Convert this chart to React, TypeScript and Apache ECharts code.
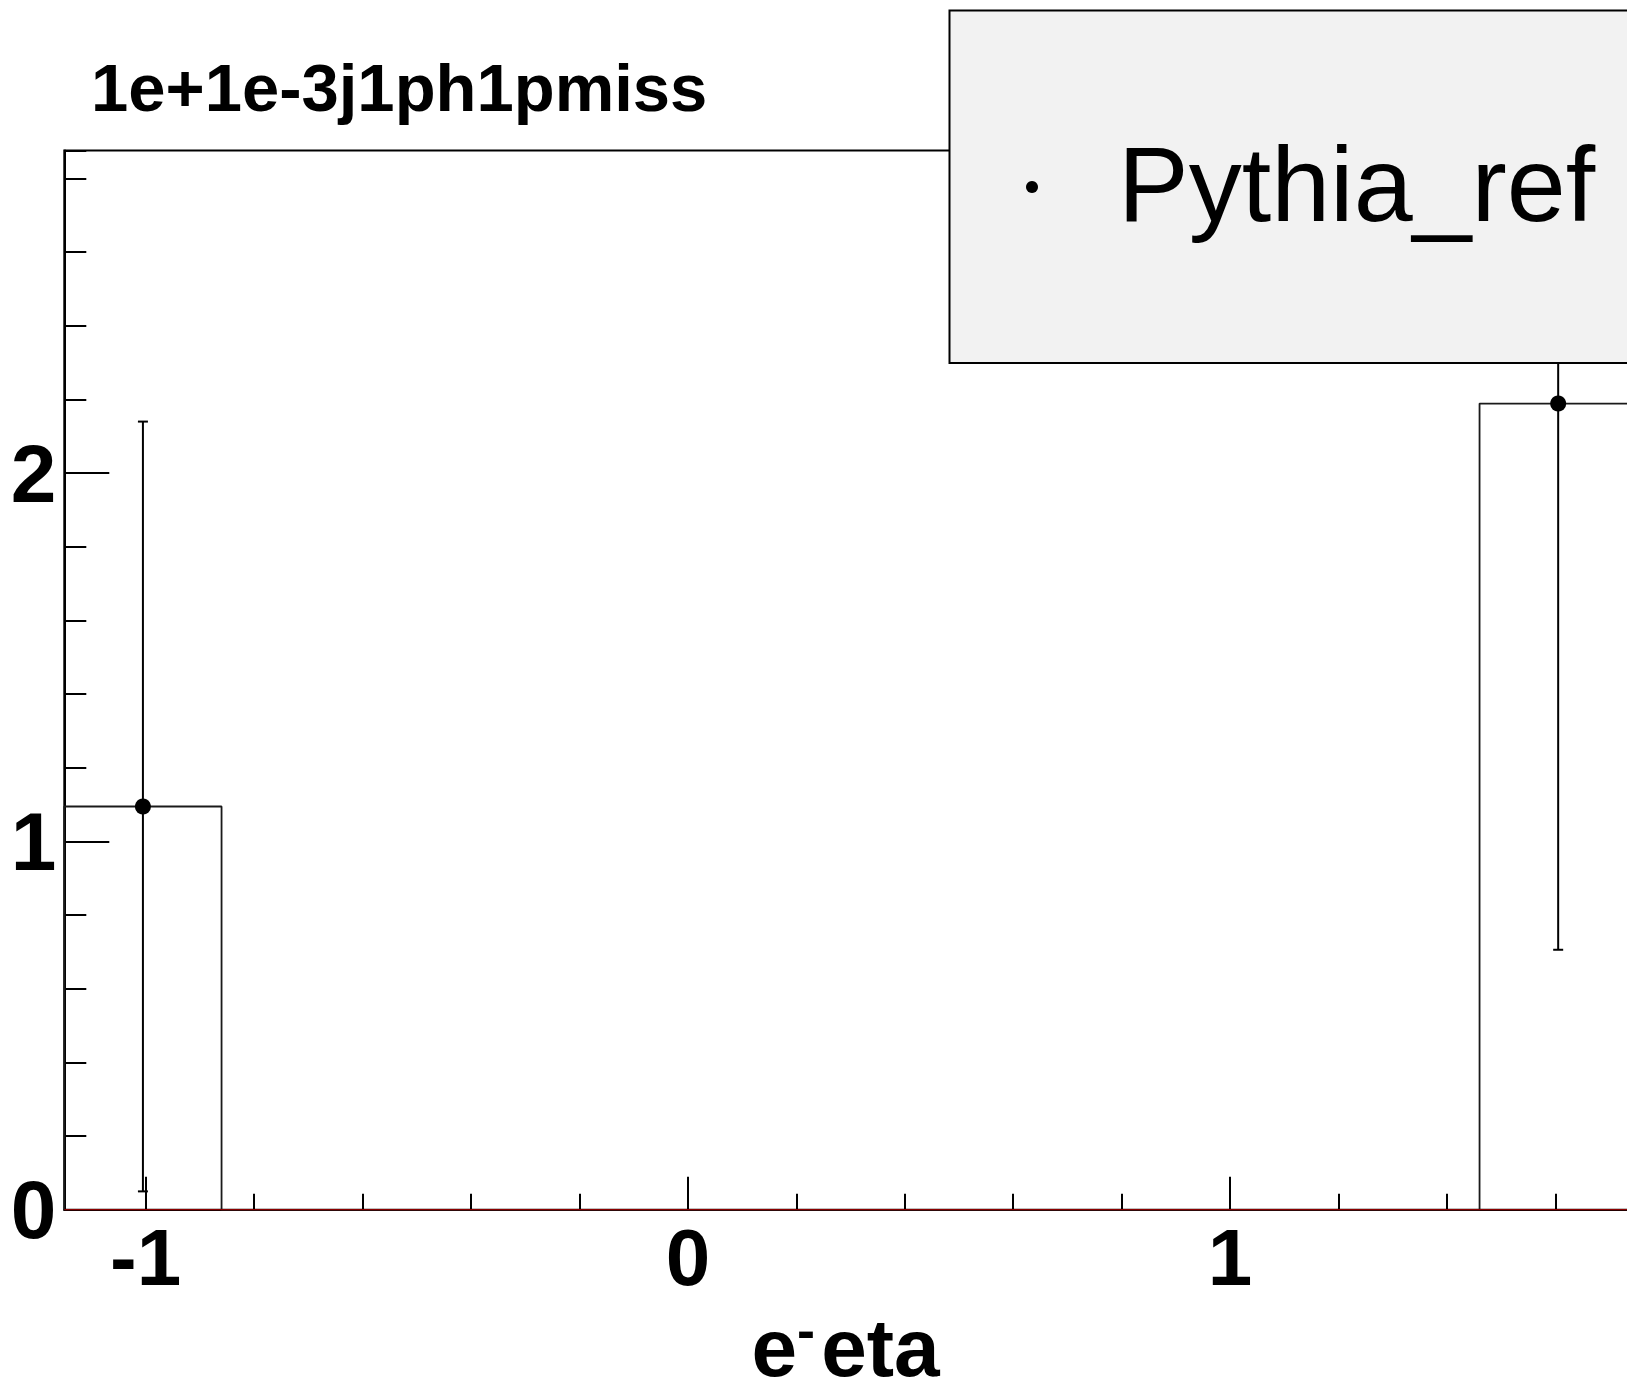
import React, { useEffect, useRef } from "react";
import * as echarts from "echarts";

// ---- data ----
const binEdges = [-1.15, -0.86, -0.57, -0.28, 0.01, 0.3, 0.59, 0.88, 1.17, 1.46, 1.75];
const binValues = [1.095, 0, 0, 0, 0, 0, 0, 0, 0, 2.189];
const binErrors = [1.045, 0, 0, 0, 0, 0, 0, 0, 0, 1.483];
const refLineValues = [0, 0, 0, 0, 0, 0, 0, 0, 0, 0];
const xTickValues = [-1, 0, 1];
const yTickValues = [0, 1, 2];
const Y_MIN = 0;
const Y_MAX = 2.876;
const titleText = "1e+1e-3j1ph1pmiss";
const legendLabel = "Pythia_ref";

const FONT = '"Liberation Sans", Arial, Helvetica, sans-serif';

export default function App() {
  const ref = useRef<HTMLDivElement>(null);

  useEffect(() => {
    document.body.style.margin = "0";
    if (!ref.current) return;
    const chart = echarts.init(ref.current, null, { renderer: "svg" });

    const X_MIN = binEdges[0];
    const X_MAX = binEdges[binEdges.length - 1];

    // histogram outline as step polyline
    const outline: number[][] = [];
    for (let i = 0; i < binValues.length; i++) {
      outline.push([binEdges[i], binValues[i]]);
      outline.push([binEdges[i + 1], binValues[i]]);
    }
    outline.unshift([X_MIN, 0]);
    outline.push([X_MAX, 0]);

    const refOutline: number[][] = [];
    for (let i = 0; i < refLineValues.length; i++) {
      refOutline.push([binEdges[i], refLineValues[i]]);
      refOutline.push([binEdges[i + 1], refLineValues[i]]);
    }

    const points: number[][] = [];
    for (let i = 0; i < binValues.length; i++) {
      if (binValues[i] > 0) {
        points.push([(binEdges[i] + binEdges[i + 1]) / 2, binValues[i], binErrors[i]]);
      }
    }

    const labelFmt = (set: number[]) => (v: number) =>
      set.some((t) => Math.abs(t - v) < 1e-9) ? String(Math.round(v)) : "";

    const option: any = {
      animation: false,
      backgroundColor: "#ffffff",
      grid: {
        left: 64.3,
        top: 150.5,
        right: 23.2,
        bottom: 180.2,
        show: true,
        borderColor: "#000",
        borderWidth: 2,
        backgroundColor: "transparent",
        containLabel: false,
        outerBoundsMode: "none",
      },
      xAxis: [
        {
          type: "value",
          min: X_MIN,
          max: X_MAX,
          minInterval: 1,
          maxInterval: 1,
          position: "bottom",
          axisLine: { show: true, onZero: false, lineStyle: { color: "#000", width: 2 } },
          axisTick: { show: true, inside: true, length: 33, lineStyle: { color: "#000", width: 2 } },
          splitLine: { show: false },
          axisLabel: {
            show: true,
            showMinLabel: false,
            showMaxLabel: false,
            margin: 8,
            fontFamily: FONT,
            fontWeight: "bold",
            fontSize: 80,
            lineHeight: 80,
            color: "#000",
            formatter: labelFmt(xTickValues),
          },
          name: "{e|e}{sup|-}{sp| }{e|eta}",
          nameLocation: "middle",
          nameGap: 78,
          nameTextStyle: {
            fontFamily: FONT,
            fontWeight: "bold",
            fontSize: 82,
            color: "#000",
            padding: [0, 10, 0, 0],
            rich: {
              e: { fontFamily: FONT, fontWeight: "bold", fontSize: 82, lineHeight: 86, verticalAlign: "bottom", color: "#000" },
              sup: { fontFamily: FONT, fontWeight: "bold", fontSize: 54, lineHeight: 40, verticalAlign: "top", color: "#000" },
              sp: { fontFamily: FONT, fontSize: 22, lineHeight: 20, verticalAlign: "bottom" },
            },
          },
        },
        {
          type: "value",
          min: X_MIN,
          max: X_MAX,
          minInterval: 0.2,
          maxInterval: 0.2,
          position: "bottom",
          offset: 0,
          axisLine: { show: false, onZero: false },
          axisTick: { show: true, inside: true, length: 16, lineStyle: { color: "#000", width: 2 } },
          splitLine: { show: false },
          axisLabel: { show: false },
        },
      ],
      yAxis: [
        {
          type: "value",
          min: Y_MIN,
          max: Y_MAX,
          minInterval: 1,
          maxInterval: 1,
          position: "left",
          axisLine: { show: true, onZero: false, lineStyle: { color: "#000", width: 2 } },
          axisTick: { show: true, inside: true, length: 45, lineStyle: { color: "#000", width: 2 } },
          splitLine: { show: false },
          axisLabel: {
            show: true,
            showMaxLabel: false,
            margin: 8,
            fontFamily: FONT,
            fontWeight: "bold",
            fontSize: 82,
            lineHeight: 82,
            color: "#000",
            padding: [24, 0, 0, 0],
            formatter: labelFmt(yTickValues),
          },
        },
        {
          type: "value",
          min: Y_MIN,
          max: Y_MAX,
          minInterval: 0.2,
          maxInterval: 0.2,
          position: "left",
          offset: 0,
          axisLine: { show: false, onZero: false },
          axisTick: { show: true, inside: true, length: 22, lineStyle: { color: "#000", width: 2 } },
          splitLine: { show: false },
          axisLabel: { show: false },
        },
      ],
      series: [
        {
          type: "line",
          name: "ref_zero",
          data: refOutline,
          symbol: "none",
          lineStyle: { color: "#8b0000", width: 1.5 },
          z: 3,
          silent: true,
        },
        {
          type: "line",
          name: "hist",
          data: outline,
          symbol: "none",
          lineStyle: { color: "#1a1a1a", width: 1.8 },
          z: 2,
          silent: true,
        },
        {
          type: "custom",
          name: "errors",
          data: points,
          z: 4,
          renderItem: (params: any, api: any) => {
            const x = api.value(0);
            const y = api.value(1);
            const e = api.value(2);
            const loV = Math.max(y - e, Y_MIN);
            const hiV = Math.min(y + e, Y_MAX);
            const lo = api.coord([x, loV]);
            const hi = api.coord([x, hiV]);
            const cap = 5;
            const children: any[] = [
              { type: "line", shape: { x1: lo[0], y1: lo[1], x2: hi[0], y2: hi[1] }, style: { stroke: "#000", lineWidth: 2 } },
            ];
            if (y - e >= Y_MIN) {
              children.push({ type: "line", shape: { x1: lo[0] - cap, y1: lo[1], x2: lo[0] + cap, y2: lo[1] }, style: { stroke: "#000", lineWidth: 2 } });
            }
            if (y + e <= Y_MAX) {
              children.push({ type: "line", shape: { x1: hi[0] - cap, y1: hi[1], x2: hi[0] + cap, y2: hi[1] }, style: { stroke: "#000", lineWidth: 2 } });
            }
            return { type: "group", children };
          },
        },
        {
          type: "scatter",
          name: legendLabel,
          data: points.map((p) => [p[0], p[1]]),
          symbol: "circle",
          symbolSize: 16,
          itemStyle: { color: "#000", opacity: 1 },
          z: 5,
        },
      ],
      graphic: [
        {
          type: "text",
          x: 91,
          y: 87,
          style: {
            text: titleText,
            font: `bold 67px ${FONT}`,
            fill: "#000",
            verticalAlign: "middle",
          },
          z: 10,
        },
        {
          type: "rect",
          shape: { x: 949.5, y: 10.4, width: 720, height: 352.6 },
          style: { fill: "#f2f2f2", stroke: "#000", lineWidth: 2 },
          z: 20,
        },
        {
          type: "circle",
          shape: { cx: 1032, cy: 187, r: 6 },
          style: { fill: "#000" },
          z: 21,
        },
        {
          type: "text",
          x: 1118,
          y: 184.3,
          style: {
            text: legendLabel,
            font: `106px ${FONT}`,
            fill: "#000",
            verticalAlign: "middle",
          },
          z: 21,
        },
      ],
    };

    chart.setOption(option);
    return () => {
      chart.dispose();
    };
  }, []);

  return (
    <div style={{ width: 1627, height: 1390, overflow: "hidden", position: "relative", background: "#fff" }}>
      <div ref={ref} style={{ width: 1660, height: 1390 }} />
    </div>
  );
}
